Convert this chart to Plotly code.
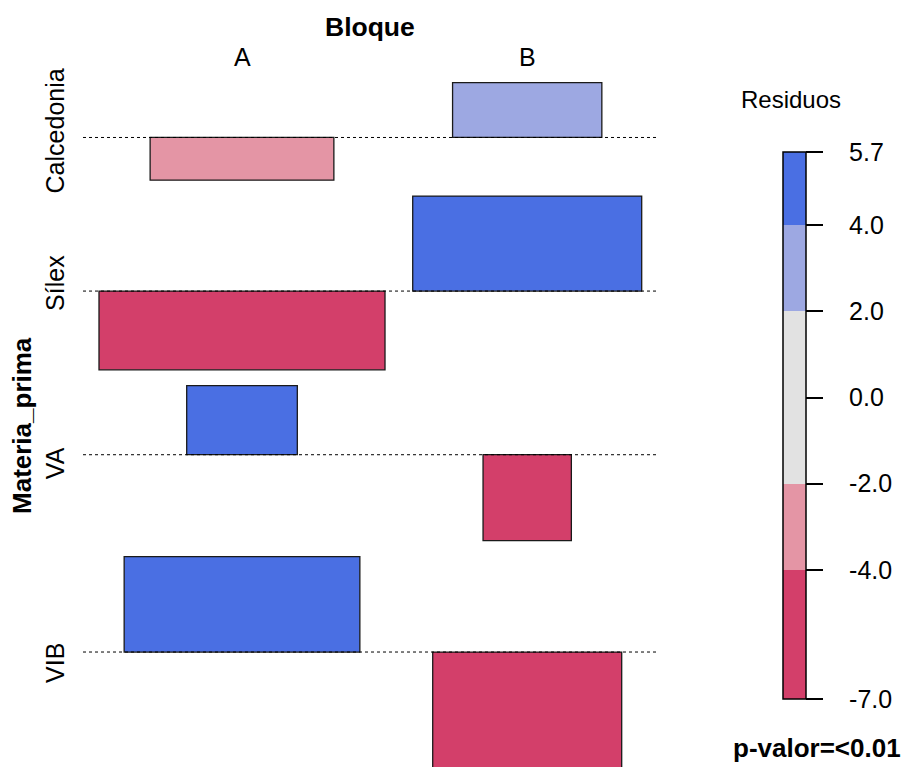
import numpy as np
import plotly.graph_objects as go

# ---------------- data ----------------
rows = ["Calcedonia", "Sílex", "VA", "VIB"]
cols = ["A", "B"]
row_var = "Materia_prima"
col_var = "Bloque"
# Pearson residuals per cell (rows x [A, B])
residuals_A = [-2.55, -4.70, 4.12, 5.70]
residuals_B = [3.27, 5.67, -5.13, -7.00]
# expected counts per cell (bar width = sqrt(expected))
expected_A = [84.4, 204.5, 30.6, 138.9]
expected_B = [55.7, 131.1, 19.5, 89.3]
shade_breaks = [-4, -2, 2, 4]
shade_colors = ["#D33F6A", "#E495A5", "#E2E2E2", "#9DA8E2", "#4A6FE3"]
legend_title = "Residuos"
p_value_label = "p-valor=<0.01"

FONT = "Liberation Sans, Arial, Helvetica, sans-serif"
W, H = 905, 767

res = np.array([residuals_A, residuals_B]).T          # 4 x 2
wid = np.sqrt(np.array([expected_A, expected_B]).T)   # 4 x 2

# column layout (x in sqrt(expected) units)
col_w = wid.max(axis=0)
col_gap = 1.385
col_left = np.array([0.0, col_w[0] + col_gap])
col_center = col_left + col_w / 2
x_total_right = col_left[-1] + col_w[-1]

# row layout (y in residual units, stacked downward)
row_pos = np.clip(res, 0, None).max(axis=1)
row_neg = np.clip(-res, 0, None).max(axis=1)
row_gap = 0.95
baselines, row_centers = [], []
top = 0.0
for p, n in zip(row_pos, row_neg):
    base = top - p
    bottom = base - n
    baselines.append(base)
    row_centers.append((top + bottom) / 2)
    top = bottom - row_gap
baselines = np.array(baselines)
plot_bottom = top + row_gap

# pixel <-> unit scales for the axes
XPX, X0 = 20.0, 99.0
YPX, Y0 = 16.75, 82.7
x_range = [-X0 / XPX, (W - X0) / XPX]
y_range = [-(H - Y0) / YPX, Y0 / YPX]

cmin, cmax = float(res.min()), float(res.max())


def norm(v):
    return (v - cmin) / (cmax - cmin)


bounds = [cmin] + shade_breaks + [cmax]
colorscale = []
for i, c in enumerate(shade_colors):
    colorscale.append([norm(bounds[i]), c])
    colorscale.append([norm(bounds[i + 1]), c])

fig = go.Figure()

# dotted baselines
pad = 0.8
for b in baselines:
    fig.add_trace(go.Scatter(
        x=[-pad, x_total_right + pad], y=[b, b], mode="lines",
        line=dict(color="black", width=1, dash="dot"),
        hoverinfo="skip", showlegend=False))

# association rectangles
xs, bases, hs, ws = [], [], [], []
for i in range(len(rows)):
    for j in range(len(cols)):
        xs.append(col_center[j])
        bases.append(baselines[i])
        hs.append(res[i, j])
        ws.append(wid[i, j])

tickvals = [cmin] + shade_breaks[:2] + [0] + shade_breaks[2:] + [cmax]
ticktext = ["\u00a0\u00a0\u00a0" + ("%.1f" % v) for v in tickvals]

fig.add_trace(go.Bar(
    x=xs, y=hs, base=bases, width=ws,
    marker=dict(
        color=hs, colorscale=colorscale, cmin=cmin, cmax=cmax,
        line=dict(color="#1a1a1a", width=1.3),
        showscale=True,
        colorbar=dict(
            x=783 / W, xanchor="left", xpad=0,
            y=1 - 425.5 / H, yanchor="middle", ypad=0,
            len=547, lenmode="pixels", thickness=23, thicknessmode="pixels",
            outlinewidth=1.5, outlinecolor="black",
            tickvals=tickvals, ticktext=ticktext,
            ticks="outside", ticklen=17, tickwidth=1.5, tickcolor="black",
            tickfont=dict(family=FONT, size=25, color="black"),
        ),
    ),
    hoverinfo="skip", showlegend=False))

base_ann = dict(showarrow=False, xanchor="center", yanchor="middle")
ann = []
for name, yc in zip(rows, row_centers):
    ann.append(dict(base_ann, text=name, x=55 / W, xref="paper", y=yc, yref="y",
                    textangle=-90,
                    font=dict(family=FONT, size=25, color="black")))
for name, xc in zip(cols, col_center):
    ann.append(dict(base_ann, text=name, x=xc, xref="x", y=1 - 57 / H, yref="paper",
                    font=dict(family=FONT, size=25, color="black")))
ann.append(dict(base_ann, text=col_var, x=x_total_right / 2, xref="x", y=1 - 27 / H,
                yref="paper",
                font=dict(family=FONT, size=26.5, color="black", weight="bold")))
ann.append(dict(base_ann, text=row_var, x=22 / W, xref="paper", y=plot_bottom / 2, yref="y",
                textangle=-90,
                font=dict(family=FONT, size=26, color="black", weight="bold")))
ann.append(dict(base_ann, text=legend_title, x=791 / W, xref="paper", y=1 - 100 / H,
                yref="paper", font=dict(family=FONT, size=24, color="black")))
ann.append(dict(base_ann, text=p_value_label, x=817 / W, xref="paper", y=1 - 748 / H,
                yref="paper",
                font=dict(family=FONT, size=26, color="black", weight="bold")))

fig.update_layout(
    width=W, height=H, autosize=False,
    margin=dict(l=0, r=0, t=0, b=0, autoexpand=False),
    paper_bgcolor="white", plot_bgcolor="white",
    barmode="overlay",
    xaxis=dict(range=x_range, visible=False, fixedrange=True, domain=[0, 1]),
    yaxis=dict(range=y_range, visible=False, fixedrange=True, domain=[0, 1]),
    annotations=ann,
    font=dict(family=FONT, color="black"),
)

fig.write_html(
    "out.html",
    config={"displayModeBar": False},
    post_script="document.body.style.margin='0px';document.body.style.overflow='hidden';",
)
